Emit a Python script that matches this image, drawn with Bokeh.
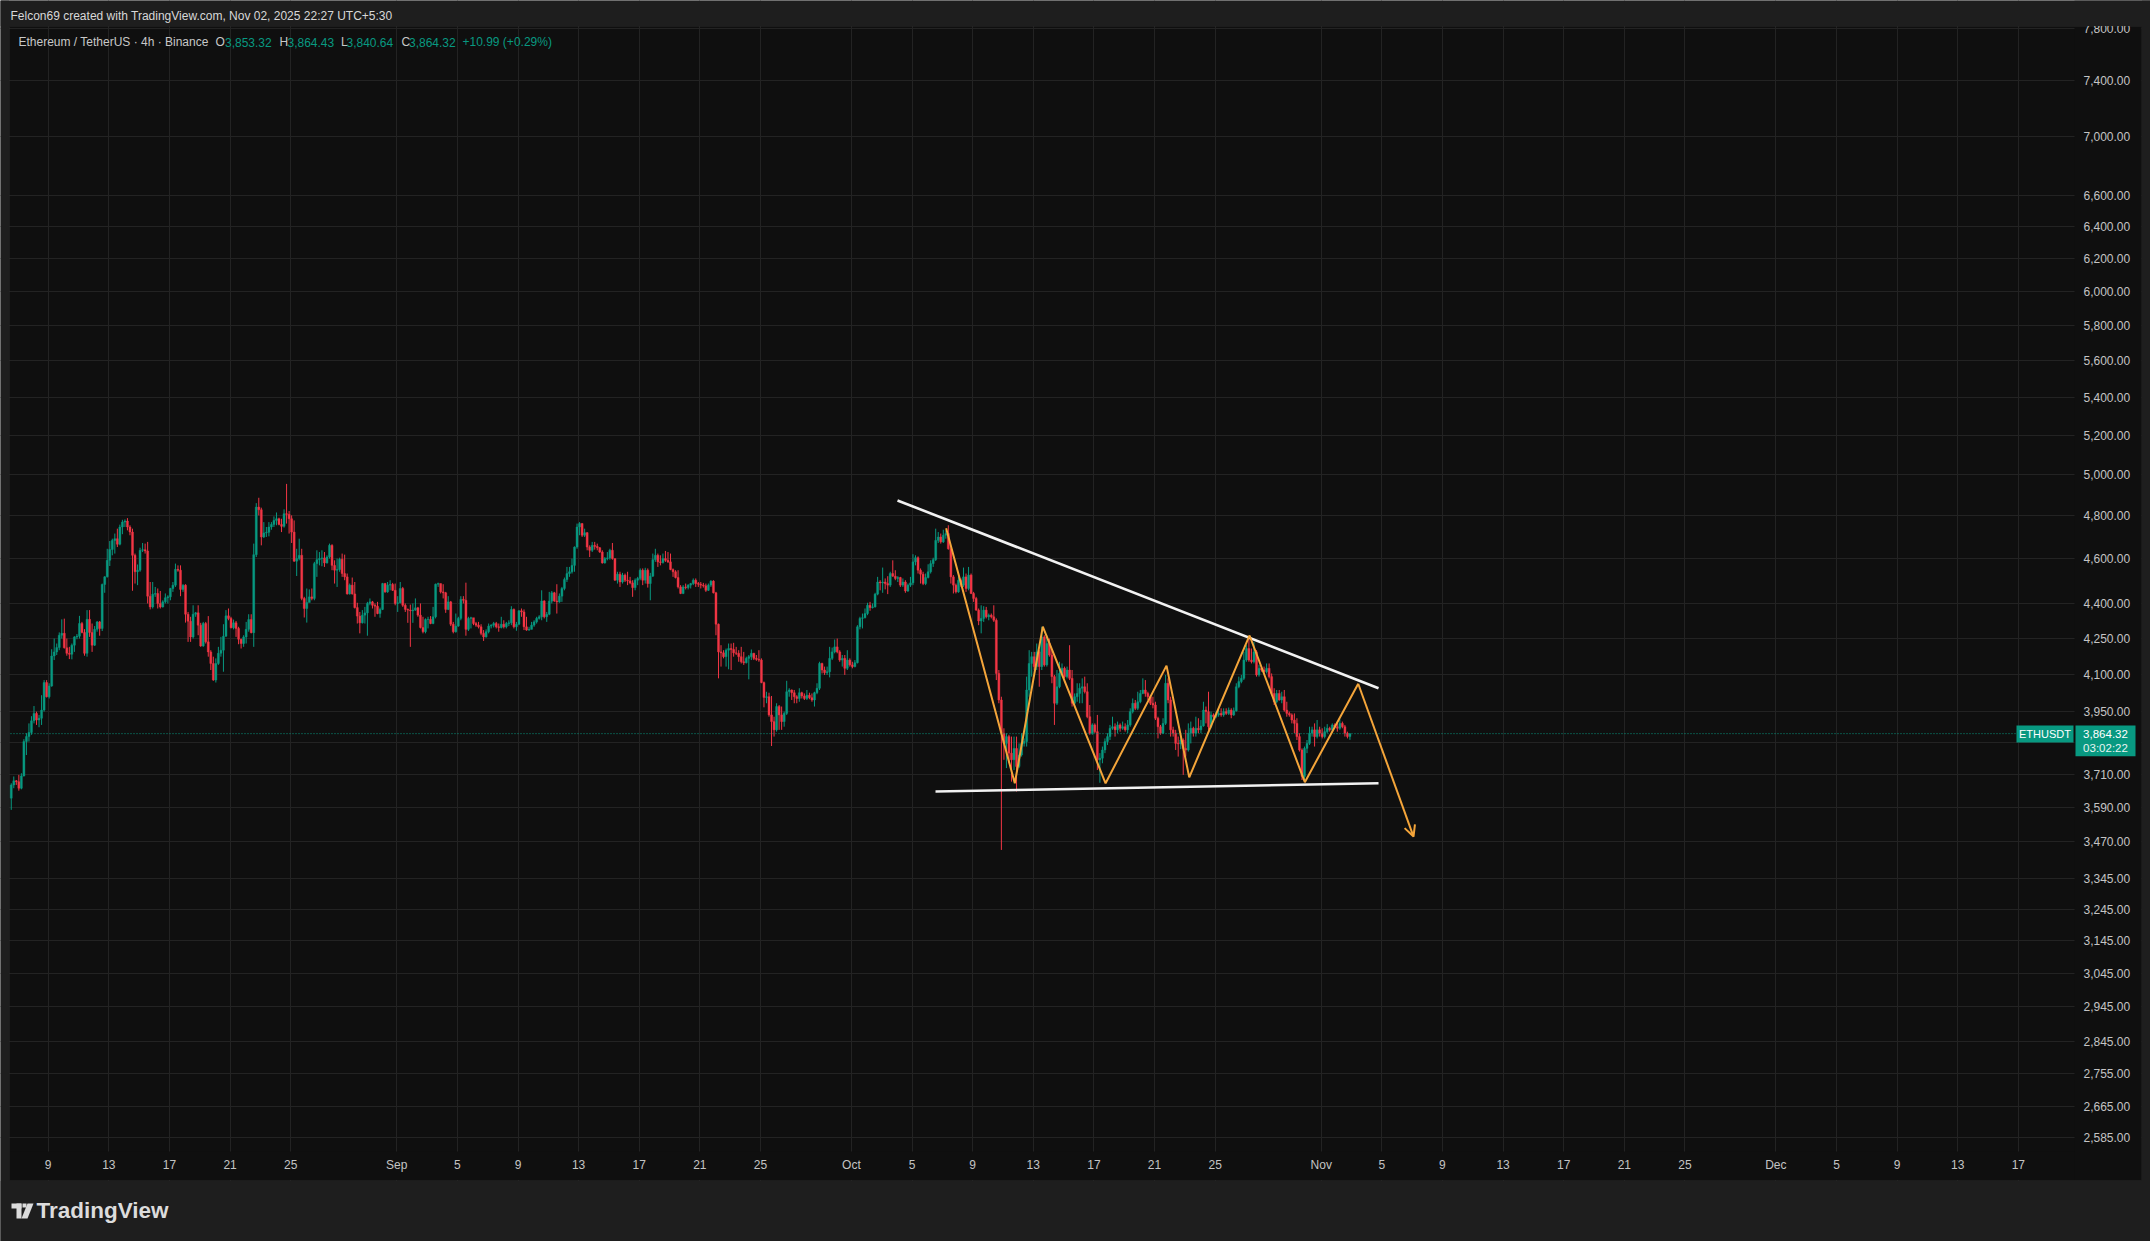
import pandas as pd
from bokeh.plotting import figure
from bokeh.models import (Range1d, FixedTicker, NumeralTickFormatter, Label,
                          BoxAnnotation, PolyAnnotation, Arrow, OpenHead, ColumnDataSource)
from bokeh.embed import file_html
from bokeh.resources import INLINE

# ---------------- data (ETH/USDT, 4h, Binance) ----------------
first_bar = "2025-08-06 13:30"   # local time UTC+5:30

opens = [
3624,3672,3687,3684,3660,3705,3834,3853,3869,3914,3943,3917,3924,3956,4066,4009,4052,4175,4192,4210,
4262,4270,4209,4186,4182,4220,4255,4258,4312,4274,4186,4330,4274,4220,4287,4319,4291,4483,4517,4592,
4642,4684,4692,4666,4747,4770,4775,4747,4723,4615,4540,4547,4638,4641,4635,4431,4384,4440,4443,4399,
4384,4406,4424,4428,4465,4480,4551,4547,4461,4480,4352,4322,4255,4352,4358,4305,4217,4312,4234,4192,
4144,4076,4144,4186,4199,4258,4345,4334,4294,4315,4291,4245,4227,4255,4287,4329,4273,4618,4842,4829,
4700,4719,4722,4747,4759,4778,4786,4759,4750,4810,4807,4786,4723,4588,4600,4615,4421,4377,4403,4428,
4421,4577,4595,4600,4603,4580,4607,4661,4569,4547,4550,4597,4532,4517,4441,4480,4441,4381,4344,4315,
4348,4358,4399,4406,4391,4387,4355,4373,4487,4450,4480,4483,4457,4399,4402,4465,4391,4373,4370,4367,
4370,4380,4348,4295,4277,4329,4330,4312,4341,4484,4487,4450,4446,4373,4406,4309,4277,4301,4334,4417,
4413,4287,4334,4337,4312,4305,4298,4270,4255,4277,4301,4305,4312,4298,4295,4309,4298,4312,4315,4373,
4298,4309,4367,4362,4298,4284,4287,4305,4319,4334,4341,4410,4341,4352,4409,4446,4410,4406,4431,4465,
4505,4532,4540,4569,4653,4747,4763,4708,4720,4653,4638,4661,4656,4650,4630,4580,4600,4603,4638,4600,
4502,4529,4494,4525,4502,4499,4490,4469,4502,4510,4547,4502,4547,4487,4520,4595,4615,4585,4582,4600,
4592,4585,4550,4540,4514,4472,4443,4472,4469,4480,4487,4502,4487,4484,4480,4477,4457,4480,4498,4446,
4309,4192,4188,4172,4199,4206,4202,4188,4186,4172,4151,4147,4165,4172,4186,4165,4161,4158,4066,4006,
4009,3937,3911,3879,3970,3937,3911,3943,4029,4036,4025,4009,4002,4025,4012,4002,4015,4005,3996,4025,
4043,4144,4117,4106,4110,4165,4192,4213,4192,4158,4165,4124,4158,4138,4131,4147,4298,4334,4337,4355,
4391,4381,4384,4440,4494,4490,4494,4487,4480,4532,4520,4510,4514,4480,4494,4454,4480,4490,4585,4604,
4547,4529,4487,4514,4540,4577,4595,4684,4700,4677,4708,4716,4645,4517,4480,4450,4502,4480,4517,4465,
4525,4443,4421,4370,4323,4334,4370,4341,4348,4341,4326,4103,3996,3866,3827,3853,3790,3765,3808,3740,
3783,3827,3834,4036,4144,4172,4131,4192,4131,4255,4138,4227,4179,4090,3983,4049,4103,4124,4090,4117,
4083,3983,4009,4022,4043,4049,4029,3930,3866,3898,3872,3765,3771,3802,3834,3853,3885,3891,3879,3898,
3885,3891,3879,3898,3950,3983,3963,3989,4022,4036,4022,4009,3983,3976,3924,3891,3866,3904,4063,3996,
3879,3866,3827,3825,3840,3808,3802,3866,3885,3866,3885,3879,3894,3956,3950,3891,3937,3930,3937,3943,
3937,3950,3943,3956,3937,3953,4049,4070,4083,4158,4206,4158,4151,4192,4097,4124,4117,4110,4124,4090,
4022,3989,4022,3996,4009,3956,3943,3937,3917,3904,3853,3802,3703,3808,3827,3866,3879,3853,3879,3866,
3853,3872,3885,3879,3898,3891,3885,3904,3891,3866,3853.32]

highs = [
3678,3703,3690,3709,3715,3843,3866,3904,3932,3972,3950,3937,4015,4076,4076,4063,4203,4248,4227,4274,
4330,4333,4248,4213,4227,4258,4267,4345,4319,4288,4370,4370,4312,4301,4323,4323,4487,4520,4645,4681,
4692,4716,4739,4758,4781,4783,4789,4755,4739,4623,4573,4650,4672,4669,4677,4494,4494,4472,4465,4454,
4413,4443,4435,4468,4494,4577,4569,4569,4484,4484,4362,4341,4391,4362,4391,4315,4319,4319,4344,4199,
4172,4165,4213,4255,4309,4370,4377,4341,4329,4323,4298,4248,4262,4319,4352,4352,4669,4861,4887,4839,
4770,4747,4770,4770,4797,4816,4791,4786,4831,4955,4823,4802,4778,4645,4692,4645,4428,4465,4461,4465,
4585,4638,4630,4638,4630,4615,4669,4666,4592,4600,4604,4623,4618,4532,4487,4514,4494,4402,4362,4370,
4384,4406,4421,4410,4399,4406,4381,4490,4490,4494,4502,4490,4487,4431,4494,4472,4399,4377,4394,4399,
4421,4384,4399,4341,4334,4341,4344,4384,4487,4491,4487,4484,4450,4431,4410,4319,4355,4341,4431,4431,
4491,4341,4341,4329,4319,4319,4309,4284,4287,4312,4309,4319,4319,4312,4341,4326,4319,4326,4387,4377,
4319,4370,4377,4373,4341,4298,4319,4326,4341,4348,4457,4413,4362,4450,4454,4450,4484,4443,4472,4514,
4562,4562,4600,4656,4763,4770,4766,4739,4723,4661,4677,4677,4669,4653,4638,4607,4630,4645,4672,4600,
4540,4540,4535,4532,4540,4517,4502,4510,4517,4555,4555,4558,4555,4535,4623,4645,4623,4615,4623,4635,
4630,4623,4555,4547,4547,4480,4480,4487,4484,4490,4510,4510,4494,4494,4490,4487,4487,4502,4502,4450,
4312,4220,4199,4206,4227,4227,4230,4213,4199,4213,4192,4172,4179,4202,4188,4179,4199,4165,4070,4029,
4025,4012,3930,3983,3976,3970,3950,4073,4043,4038,4036,4015,4043,4029,4022,4036,4025,4022,4029,4063,
4151,4147,4131,4131,4213,4210,4244,4248,4199,4179,4179,4199,4165,4151,4158,4305,4341,4355,4377,4402,
4406,4399,4446,4517,4502,4559,4510,4520,4540,4592,4547,4520,4517,4510,4502,4487,4517,4620,4615,4610,
4555,4540,4532,4574,4592,4604,4739,4723,4716,4734,4731,4755,4653,4525,4487,4520,4510,4559,4532,4562,
4532,4450,4428,4377,4391,4387,4384,4355,4355,4391,4334,4117,4009,3885,3866,3860,3853,3853,3853,3827,
3866,3846,4090,4199,4192,4192,4227,4199,4298,4262,4262,4248,4199,4097,4117,4151,4144,4131,4131,4220,
4117,4022,4063,4063,4083,4090,4063,3976,3904,3904,3937,3790,3815,3846,3866,3898,3930,3904,3911,3904,
3911,3904,3917,3963,4002,3996,4029,4036,4083,4076,4029,4015,4009,3989,3930,3898,3924,4097,4083,4009,
3891,3879,3853,3860,3846,3879,3904,3911,3891,3930,3924,3917,3989,3970,4029,3950,3943,3950,3956,3963,
3963,3963,3966,3963,3966,4063,4090,4097,4192,4220,4255,4206,4234,4199,4138,4131,4131,4144,4144,4103,
4043,4036,4036,4029,4036,3989,3950,3943,3943,3924,3866,3808,3815,3840,3891,3891,3904,3917,3891,3885,
3891,3901,3891,3904,3904,3911,3920,3911,3898,3872,3864.43]

lows = [
3582,3660,3672,3651,3656,3703,3783,3834,3860,3904,3898,3889,3898,3950,4006,4002,4049,4158,4179,4199,
4248,4206,4176,4162,4161,4192,4245,4248,4270,4176,4172,4255,4192,4217,4277,4260,4280,4446,4514,4566,
4615,4623,4653,4661,4713,4747,4731,4708,4455,4487,4480,4540,4630,4623,4399,4373,4377,4428,4377,4377,
4381,4399,4399,4413,4450,4472,4540,4431,4450,4316,4234,4234,4248,4341,4262,4213,4213,4227,4172,4117,
4073,4066,4138,4172,4110,4255,4326,4291,4287,4255,4224,4206,4213,4227,4277,4270,4213,4607,4802,4661,
4695,4700,4703,4734,4747,4755,4755,4723,4744,4763,4716,4672,4585,4521,4592,4413,4338,4316,4406,4413,
4413,4517,4569,4565,4562,4577,4600,4547,4487,4472,4540,4517,4502,4438,4438,4438,4377,4312,4270,4312,
4312,4260,4391,4377,4341,4352,4337,4370,4446,4446,4457,4454,4391,4362,4399,4384,4362,4315,4213,4315,
4367,4341,4291,4270,4270,4291,4309,4309,4334,4472,4443,4421,4358,4370,4301,4270,4273,4298,4326,4399,
4260,4280,4291,4305,4298,4291,4262,4238,4252,4270,4291,4295,4291,4277,4291,4291,4291,4301,4305,4291,
4281,4305,4341,4284,4281,4281,4287,4298,4312,4329,4326,4334,4319,4348,4399,4406,4355,4402,4406,4457,
4494,4517,4532,4540,4645,4708,4700,4700,4638,4607,4630,4641,4638,4626,4577,4577,4592,4595,4595,4499,
4487,4472,4487,4494,4480,4484,4428,4457,4480,4502,4480,4487,4469,4413,4517,4585,4562,4569,4577,4585,
4580,4547,4517,4510,4465,4440,4440,4461,4461,4465,4480,4472,4472,4465,4469,4450,4454,4472,4443,4262,
4083,4131,4165,4131,4120,4117,4172,4179,4151,4144,4138,4144,4079,4158,4158,4155,4151,4063,3967,3983,
3930,3817,3853,3872,3879,3879,3891,3937,4009,3996,3983,3983,3989,4002,3996,3996,3999,3989,3970,4019,
4036,4103,4097,4097,4087,4158,4186,4186,4151,4131,4097,4117,4131,4124,4128,4144,4287,4291,4334,4348,
4367,4377,4381,4435,4457,4446,4461,4440,4472,4517,4502,4494,4472,4472,4446,4450,4472,4480,4569,4532,
4487,4480,4480,4510,4532,4562,4589,4672,4669,4672,4692,4641,4487,4443,4443,4446,4472,4472,4450,4457,
4440,4406,4367,4305,4270,4319,4334,4326,4334,4319,4076,3983,3442,3765,3734,3752,3684,3727,3648,3734,
3777,3815,3815,4009,4090,4117,4117,4049,4117,4131,4131,4172,4063,3898,3976,4043,4097,4083,4083,4076,
3970,3970,3989,3983,3983,4022,3924,3860,3860,3866,3727,3680,3752,3790,3821,3840,3879,3853,3866,3872,
3879,3872,3866,3891,3943,3956,3956,3983,4019,4009,3996,3976,3963,3917,3846,3860,3863,3898,3983,3853,
3853,3802,3777,3805,3709,3777,3796,3827,3853,3853,3866,3866,3891,3904,3879,3885,3924,3924,3930,3930,
3930,3937,3937,3924,3933,3950,4043,4063,4076,4151,4151,4144,4144,4090,4090,4110,4100,4103,4083,4015,
3976,3983,3993,3983,3950,3930,3930,3904,3866,3840,3796,3690,3688,3790,3821,3853,3815,3846,3853,3846,
3846,3866,3872,3872,3885,3872,3879,3885,3853,3846,3840.64]

closes = [
3672,3687,3684,3660,3705,3834,3853,3869,3914,3943,3917,3924,3956,4066,4009,4052,4175,4192,4210,4262,
4270,4209,4186,4182,4220,4255,4258,4312,4274,4186,4330,4274,4220,4287,4319,4291,4483,4517,4592,4642,
4684,4692,4666,4747,4770,4775,4747,4723,4615,4540,4547,4638,4641,4635,4431,4384,4440,4443,4399,4384,
4406,4424,4428,4465,4480,4551,4547,4461,4480,4352,4322,4255,4352,4358,4305,4217,4312,4234,4192,4144,
4076,4144,4186,4199,4258,4345,4334,4294,4315,4291,4245,4227,4255,4287,4329,4273,4618,4842,4829,4700,
4719,4722,4747,4759,4778,4786,4759,4750,4810,4807,4786,4723,4588,4600,4615,4421,4377,4403,4428,4421,
4577,4595,4600,4603,4580,4607,4661,4569,4547,4550,4597,4532,4517,4441,4480,4441,4381,4344,4315,4348,
4358,4399,4406,4391,4387,4355,4373,4487,4450,4480,4483,4457,4399,4402,4465,4391,4373,4370,4367,4370,
4380,4348,4295,4277,4329,4330,4312,4341,4484,4487,4450,4446,4373,4406,4309,4277,4301,4334,4417,4413,
4287,4334,4337,4312,4305,4298,4270,4255,4277,4301,4305,4312,4298,4295,4309,4298,4312,4315,4373,4298,
4309,4367,4362,4298,4284,4287,4305,4319,4334,4341,4410,4341,4352,4409,4446,4410,4406,4431,4465,4505,
4532,4540,4569,4653,4747,4763,4708,4720,4653,4638,4661,4656,4650,4630,4580,4600,4603,4638,4600,4502,
4529,4494,4525,4502,4499,4490,4469,4502,4510,4547,4502,4547,4487,4520,4595,4615,4585,4582,4600,4592,
4585,4550,4540,4514,4472,4443,4472,4469,4480,4487,4502,4487,4484,4480,4477,4457,4480,4498,4446,4309,
4192,4188,4172,4199,4206,4202,4188,4186,4172,4151,4147,4165,4172,4186,4165,4161,4158,4066,4006,4009,
3937,3911,3879,3970,3937,3911,3943,4029,4036,4025,4009,4002,4025,4012,4002,4015,4005,3996,4025,4043,
4144,4117,4106,4110,4165,4192,4213,4192,4158,4165,4124,4158,4138,4131,4147,4298,4334,4337,4355,4391,
4381,4384,4440,4494,4490,4494,4487,4480,4532,4520,4510,4514,4480,4494,4454,4480,4490,4585,4604,4547,
4529,4487,4514,4540,4577,4595,4684,4700,4677,4708,4716,4645,4517,4480,4450,4502,4480,4517,4465,4525,
4443,4421,4370,4323,4334,4370,4341,4348,4341,4326,4103,3996,3866,3827,3853,3790,3765,3808,3740,3783,
3827,3834,4036,4144,4172,4131,4192,4131,4255,4138,4227,4179,4090,3983,4049,4103,4124,4090,4117,4083,
3983,4009,4022,4043,4049,4029,3930,3866,3898,3872,3765,3771,3802,3834,3853,3885,3891,3879,3898,3885,
3891,3879,3898,3950,3983,3963,3989,4022,4036,4022,4009,3983,3976,3924,3891,3866,3904,4063,3996,3879,
3866,3827,3825,3840,3808,3802,3866,3885,3866,3885,3879,3894,3956,3950,3891,3937,3930,3937,3943,3937,
3950,3943,3956,3937,3953,4049,4070,4083,4158,4206,4158,4151,4192,4097,4124,4117,4110,4124,4090,4022,
3989,4022,3996,4009,3956,3943,3937,3917,3904,3853,3802,3703,3808,3827,3866,3879,3853,3879,3866,3853,
3872,3885,3879,3898,3891,3885,3904,3891,3866,3853.32,3864.32]

# change shown in the legend
legend_change = 10.99
legend_change_pct = 0.29

# price scale labels (log scale)
price_ticks = [2585, 2665, 2755, 2845, 2945, 3045, 3145, 3245, 3345, 3470, 3590, 3710, 3830,
               3950, 4100, 4250, 4400, 4600, 4800, 5000, 5200, 5400, 5600, 5800, 6000, 6200,
               6400, 6600, 7000, 7400, 7800]
hidden_price_labels = [3830]   # hidden behind the last-price box

# time scale labels
time_tick_dates = ["2025-08-09", "2025-08-13", "2025-08-17", "2025-08-21", "2025-08-25",
                   "2025-09-01", "2025-09-05", "2025-09-09", "2025-09-13", "2025-09-17",
                   "2025-09-21", "2025-09-25", "2025-10-01", "2025-10-05", "2025-10-09",
                   "2025-10-13", "2025-10-17", "2025-10-21", "2025-10-25", "2025-11-01",
                   "2025-11-05", "2025-11-09", "2025-11-13", "2025-11-17", "2025-11-21",
                   "2025-11-25", "2025-12-01", "2025-12-05", "2025-12-09", "2025-12-13",
                   "2025-12-17"]
time_tick_labels = ["9", "13", "17", "21", "25", "Sep", "5", "9", "13", "17", "21", "25",
                    "Oct", "5", "9", "13", "17", "21", "25", "Nov", "5", "9", "13", "17",
                    "21", "25", "Dec", "5", "9", "13", "17"]

# drawings (time, price anchors)
upper_trend_t = ["2025-10-04 01:00", "2025-11-04 18:45"]
upper_trend_p = [4874, 4043]
lower_trend_t = ["2025-10-06 13:10", "2025-11-04 18:45"]
lower_trend_p = [3648, 3678]
zigzag_t = ["2025-10-07 06:00", "2025-10-11 18:45", "2025-10-13 15:05", "2025-10-17 18:30",
            "2025-10-21 19:00", "2025-10-23 07:00", "2025-10-27 06:30", "2025-10-30 22:05",
            "2025-11-03 10:35", "2025-11-07 02:10"]
zigzag_p = [4741, 3678, 4299, 3678, 4135, 3700, 4261, 3682, 4061, 3488]

last_price = closes[-1]

# ---------------- helpers ----------------
origin = pd.Timestamp("2025-08-09 00:00")
def day(t):
    return (pd.Timestamp(t) - origin) / pd.Timedelta(days=1)

times = pd.date_range(first_bar, periods=len(closes), freq="4h")
xs = [day(t) for t in times]

UP, DOWN = "#089981", "#f23645"
colors = [UP if c >= o else DOWN for o, c in zip(opens, closes)]
src = ColumnDataSource(dict(
    x=xs, h=highs, l=lows,
    top=[max(o, c) for o, c in zip(opens, closes)],
    bottom=[min(o, c) for o, c in zip(opens, closes)],
    color=colors))

FONT = "Liberation Sans"
AXIS_TXT = "#c4c4c4"
OUTER = "#1e1e1e"
PANE = "#0f0f0f"
GRID = "#232323"

# view: the plotting frame covers the whole canvas; the price pane is x 10..2074, y 27..1151
W, H = 2150, 1241
PANE_L, PANE_R, PANE_T, PANE_B = 10, 2074, 27, 1151
x_view = (-3.1475, 138.72)          # days from Aug 9 at canvas x = 0 and x = W
y_view = (2330.9, 8017.1)           # prices at canvas y = H and y = 0
pane_x0 = x_view[0] + (x_view[1] - x_view[0]) * PANE_L / W
pane_x1 = x_view[0] + (x_view[1] - x_view[0]) * PANE_R / W

p = figure(frame_width=W, frame_height=H,
           min_border_left=0, min_border_right=0, min_border_top=0, min_border_bottom=0,
           x_range=Range1d(*x_view), y_range=Range1d(*y_view),
           y_axis_type="log", y_axis_location="right", title=None,
           output_backend="svg", toolbar_location=None,
           background_fill_color=OUTER, border_fill_color=OUTER,
           outline_line_color=None)

def canvas_box(l, r, t, b, color, level, line=None):
    return BoxAnnotation(left=l, right=r, top=t, bottom=b,
                         left_units="canvas", right_units="canvas",
                         top_units="canvas", bottom_units="canvas",
                         fill_color=color, fill_alpha=1.0 if color else 0.0,
                         line_color=line, line_width=1, level=level)

def lab(x, y, text, color, size="12px", align="left", style="normal"):
    p.add_layout(Label(x=x, y=y, x_units="canvas", y_units="canvas", text=text,
                       text_color=color, text_font=FONT, text_font_size=size,
                       text_font_style=style, text_align=align, text_baseline="middle",
                       level="annotation"))

# chart panel background
p.add_layout(canvas_box(9, 2141, 26, 1180, PANE, "image"))

# axes (labels placed inside the canvas)
yax = p.yaxis[0]
yax.ticker = FixedTicker(ticks=price_ticks)
yax.formatter = NumeralTickFormatter(format="0,0.00")
yax.major_label_overrides = {v: "" for v in hidden_price_labels}
yax.major_tick_line_color = None
yax.minor_tick_line_color = None
yax.major_tick_out = 0
yax.major_tick_in = 0
yax.axis_line_color = None
yax.major_label_standoff = 2083 - W
yax.major_label_text_color = AXIS_TXT
yax.major_label_text_font = FONT
yax.major_label_text_font_size = "12px"

tick_x = [int(round(day(d))) for d in time_tick_dates]
xax = p.xaxis[0]
xax.ticker = FixedTicker(ticks=tick_x)
xax.major_label_overrides = {tx: lb for tx, lb in zip(tick_x, time_tick_labels)}
xax.major_tick_line_color = None
xax.minor_tick_line_color = None
xax.major_tick_out = 0
xax.major_tick_in = 0
xax.axis_line_color = None
xax.major_label_standoff = 6 - (H - PANE_B)
xax.major_label_text_color = AXIS_TXT
xax.major_label_text_font = FONT
xax.major_label_text_font_size = "12px"

p.xgrid.ticker = FixedTicker(ticks=tick_x)
p.ygrid.ticker = FixedTicker(ticks=price_ticks)
p.xgrid.grid_line_color = GRID
p.ygrid.grid_line_color = GRID

# keep grid lines inside the price pane
for (l, r, t, b, c) in [(0, W, 0, 25.5, OUTER), (0, W, 1180.5, H, OUTER),
                        (0, 8.5, 0, H, OUTER), (2141.5, W, 0, H, OUTER),
                        (PANE_R, 2141, 26.5, 1179.5, PANE), (9.5, PANE_R, PANE_B, 1179.5, PANE)]:
    p.add_layout(canvas_box(l, r, t, b, c, "underlay"))
p.add_layout(canvas_box(9, 2141, 26, 1180, None, "underlay", line="#2a2a2a"))

# candles
p.segment(x0="x", y0="l", x1="x", y1="h", line_color="color", line_width=1, source=src)
p.vbar(x="x", width=0.132, top="top", bottom="bottom", fill_color="color",
       line_color="color", line_width=0.4, source=src)

# last price line
p.segment(x0=[pane_x0], y0=[last_price], x1=[pane_x1], y1=[last_price],
          line_color=UP, line_dash="1 2", line_width=1)

# drawings
p.line([day(t) for t in upper_trend_t], upper_trend_p, line_color="#f2f2f2", line_width=2.6)
p.line([day(t) for t in lower_trend_t], lower_trend_p, line_color="#f2f2f2", line_width=2.6)
ORANGE = "#f4a53a"
zx = [day(t) for t in zigzag_t]
p.line(zx[:-1], zigzag_p[:-1], line_color=ORANGE, line_width=2)
p.add_layout(Arrow(end=OpenHead(size=11, line_color=ORANGE, line_width=2),
                   x_start=zx[-2], y_start=zigzag_p[-2], x_end=zx[-1], y_end=zigzag_p[-1],
                   line_color=ORANGE, line_width=2))

# top strip over the scale: cuts the top price label at the pane edge
p.add_layout(canvas_box(PANE_R, W, 0, 25.5, OUTER, "annotation"))

# header
lab(10, 15, "Felcon69 created with TradingView.com, Nov 02, 2025 22:27 UTC+5:30", "#d8d8d8")

# legend line
GREY = "#c8c8c8"
lab(18, 41.5, "Ethereum / TetherUS \u00b7 4h \u00b7 Binance", GREY)
lab(215, 41.5, "O", GREY)
lab(224.5, 41.5, "{:,.2f}".format(opens[-1]), UP)
lab(279, 41.5, "H", GREY)
lab(287, 41.5, "{:,.2f}".format(highs[-1]), UP)
lab(340.6, 41.5, "L", GREY)
lab(346, 41.5, "{:,.2f}".format(lows[-1]), UP)
lab(401, 41.5, "C", GREY)
lab(408.5, 41.5, "{:,.2f}".format(closes[-1]), UP)
lab(462, 41.5, "{:+.2f} ({:+.2f}%)".format(legend_change, legend_change_pct), UP)

# symbol label and last-price box
p.add_layout(canvas_box(2016, 2073, 725, 742, UP, "annotation"))
lab(2044.5, 733.5, "ETHUSDT", "#ffffff", size="11px", align="center")
p.add_layout(canvas_box(2075, 2135, 725, 755.7, UP, "annotation"))
lab(2105, 733, "{:,.2f}".format(last_price), "#ffffff", size="11.5px", align="center")
lab(2105, 747, "03:02:22", "#e6f4f1", size="11.5px", align="center")

# footer logo
LOGO = "#dcdcdc"
for (l, r, t, b) in [(11, 21, 1203, 1208), (16, 21, 1203, 1218), (22, 26, 1203, 1207)]:
    p.add_layout(canvas_box(l, r, t, b, LOGO, "annotation"))
p.add_layout(PolyAnnotation(xs=[27, 33, 27, 21], ys=[1203, 1203, 1218, 1218],
                            xs_units="canvas", ys_units="canvas",
                            fill_color=LOGO, fill_alpha=1.0, line_color=None,
                            level="annotation"))
lab(36, 1210, "TradingView", LOGO, size="22.5px", style="bold")

html = file_html(p, INLINE, title="ETHUSDT")
html = html.replace("<body>", '<body style="background-color:#1e1e1e;">', 1)
open("out.html", "w").write(html)
